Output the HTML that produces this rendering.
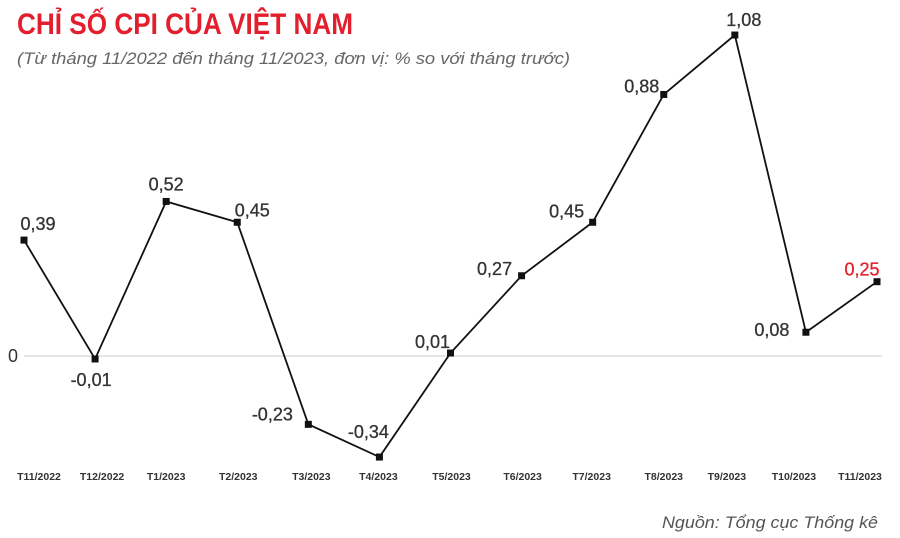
<!DOCTYPE html>
<html><head><meta charset="utf-8"><style>
html,body{margin:0;padding:0;background:#fff;}
svg{display:block;font-family:"Liberation Sans",sans-serif;}
</style></head><body>
<svg id="chart" width="900" height="538">
<text x="17" y="34" font-size="30" font-weight="bold" fill="#e31e2d" textLength="336" lengthAdjust="spacingAndGlyphs">CHỈ SỐ CPI CỦA VIỆT NAM</text>
<text x="17" y="64" font-size="17" font-style="italic" fill="#666" textLength="553" lengthAdjust="spacingAndGlyphs">(Từ tháng 11/2022 đến tháng 11/2023, đơn vị: % so với tháng trước)</text>
<text x="878" y="528" font-size="17" font-style="italic" fill="#555" text-anchor="end" textLength="216" lengthAdjust="spacingAndGlyphs">Nguồn: Tổng cục Thống kê</text>
<g id="plot"></g>
</svg>
<script>
const categories=["T11/2022","T12/2022","T1/2023","T2/2023","T3/2023","T4/2023","T5/2023","T6/2023","T7/2023","T8/2023","T9/2023","T10/2023","T11/2023"];
const values=[0.39,-0.01,0.52,0.45,-0.23,-0.34,0.01,0.27,0.45,0.88,1.08,0.08,0.25];
const valueLabels=["0,39","-0,01","0,52","0,45","-0,23","-0,34","0,01","0,27","0,45","0,88","1,08","0,08","0,25"];
const labelDx=[14,-4,0,15,-36,-11,-18,-27,-26,-22,9,-34,-15];
const labelDy=[-16,21,-17,-12,-10,-25,-11,-7,-11,-8,-15,-2,-12];
const tickDx=[15,7,0,1,3,-1,1,1,-1,0,-8,-12,-17];
const NS="http://www.w3.org/2000/svg";
const g=document.getElementById("plot");
const x=i=>24+i*(877-24)/(categories.length-1);
const y=v=>356-v*297.2;
function mk(t,a){const e=document.createElementNS(NS,t);for(const k in a)e.setAttribute(k,a[k]);g.appendChild(e);return e;}
const zl=mk("line",{x1:24,x2:882,y1:y(0),y2:y(0),stroke:"#ccc","stroke-width":1});


const zt=mk("text",{x:8,y:y(0)+6,"font-size":18,fill:"#333"});zt.textContent="0";


const pl=mk("polyline",{points:values.map((v,i)=>x(i)+","+y(v)).join(" "),fill:"none",stroke:"#111","stroke-width":1.8});


values.forEach((v,i)=>{
 const r=mk("rect",{x:x(i)-3.5,y:y(v)-3.5,width:7,height:7,fill:"#111"});
 
 
 const last=i===values.length-1;
 const t=mk("text",{x:x(i)+labelDx[i],y:y(v)+labelDy[i]+6,"font-size":18,fill:last?"#e31e2d":"#333","text-anchor":"middle","stroke":last?"#e31e2d":"#333","stroke-width":0.3});
 t.textContent=valueLabels[i];
 
 
 const c=mk("text",{x:x(i)+tickDx[i],y:480,"font-size":10.5,"font-weight":"bold",fill:"#333","text-anchor":"middle"});
 c.textContent=categories[i];
 
 
});
</script>
</body></html>
